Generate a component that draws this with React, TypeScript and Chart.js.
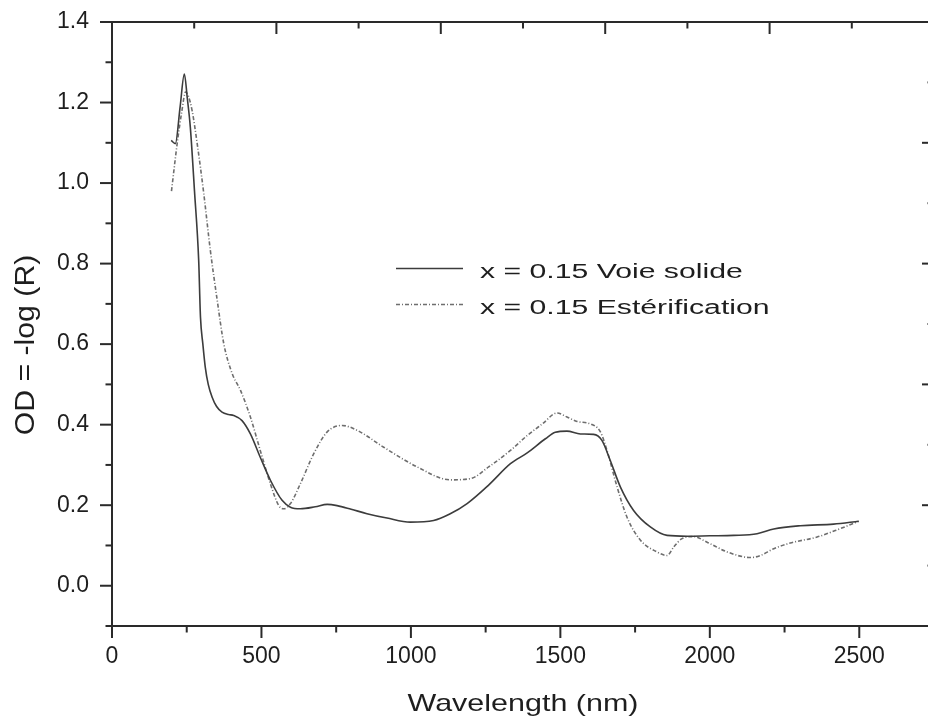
import React, { useEffect, useRef } from "react";
import { Chart, registerables } from "chart.js";

Chart.register(...registerables);

// ---- data ----
const solidWavelength = [198, 212, 228, 242, 252, 262, 276, 290, 296, 304, 312, 322, 335, 350, 368, 390, 407, 435, 463, 496, 530, 569, 597, 630, 680, 720, 753, 800, 853, 920, 998, 1076, 1130, 1188, 1260, 1333, 1389, 1450, 1483, 1522, 1567, 1611, 1639, 1667, 1701, 1745, 1801, 1857, 1924, 2000, 2080, 2158, 2214, 2303, 2414, 2498];
const solidOD = [1.106, 1.098, 1.19, 1.271, 1.21, 1.139, 0.98, 0.808, 0.667, 0.6, 0.543, 0.5, 0.468, 0.445, 0.431, 0.425, 0.423, 0.41, 0.377, 0.319, 0.262, 0.212, 0.195, 0.191, 0.196, 0.202, 0.199, 0.19, 0.179, 0.168, 0.158, 0.162, 0.178, 0.204, 0.25, 0.303, 0.33, 0.365, 0.381, 0.384, 0.377, 0.376, 0.361, 0.311, 0.245, 0.187, 0.146, 0.125, 0.123, 0.124, 0.125, 0.129, 0.141, 0.149, 0.153, 0.16];

const esterWavelength = [199, 218, 234, 246, 256, 268, 285, 307, 329, 352, 374, 402, 430, 463, 496, 530, 558, 575, 597, 630, 675, 720, 770, 820, 909, 1021, 1132, 1199, 1260, 1333, 1389, 1440, 1489, 1522, 1556, 1600, 1634, 1656, 1690, 1723, 1768, 1823, 1857, 1879, 1907, 1946, 1991, 2058, 2136, 2169, 2214, 2269, 2359, 2437, 2498];
const esterOD = [0.98, 1.098, 1.18, 1.226, 1.215, 1.18, 1.098, 0.974, 0.833, 0.709, 0.601, 0.527, 0.485, 0.419, 0.336, 0.253, 0.199, 0.191, 0.204, 0.253, 0.328, 0.382, 0.398, 0.386, 0.344, 0.295, 0.263, 0.266, 0.295, 0.336, 0.373, 0.402, 0.429, 0.419, 0.408, 0.402, 0.382, 0.336, 0.245, 0.17, 0.113, 0.084, 0.075, 0.096, 0.117, 0.122, 0.108, 0.084, 0.07, 0.075, 0.092, 0.106, 0.121, 0.142, 0.16];

const seriesLabels = ["x = 0.15 Voie solide", "x = 0.15 Estérification"];
const xAxisTitle = "Wavelength (nm)";
const yAxisTitle = "OD = -log (R)";

// axis ranges / steps
const xRange = [0, 2750];
const xStep = 250;
const xLabelEvery = 500;
const xLabelMax = 2500;
const yRange = [-0.1, 1.4];
const yStep = 0.1;
const auxRange = [0, 5];
const auxStep = 0.5;

// ---- styling ----
const CANVAS_W = 945;
const CANVAS_H = 720;
const AXIS_COLOR = "#2a2a2a";
const TEXT_COLOR = "#1e1e1e";
const FONT = '"Liberation Sans", Arial, Helvetica, sans-serif';
const SOLID_COLOR = "#3c3c3c";
const DASH_COLOR = "#6e6e6e";
const DASH_PATTERN = [4, 2, 1, 2];
const MAJOR_LEN = 12;
const MINOR_LEN = 6.5;

function zip(xs: number[], ys: number[]) {
  return xs.map((x, i) => ({ x, y: ys[i] }));
}

function stretchedText(
  ctx: CanvasRenderingContext2D,
  text: string,
  x: number,
  y: number,
  size: number,
  sx: number,
  align: CanvasTextAlign,
  rotate = false
) {
  ctx.save();
  ctx.translate(x, y);
  if (rotate) ctx.rotate(-Math.PI / 2);
  ctx.scale(sx, 1);
  ctx.font = `${size}px ${FONT}`;
  ctx.fillStyle = TEXT_COLOR;
  ctx.textAlign = align;
  ctx.textBaseline = "alphabetic";
  ctx.fillText(text, 0, 0);
  ctx.restore();
}

const decorPlugin = {
  id: "decor",
  afterDraw(chart: any) {
    const { ctx, chartArea: ca, scales } = chart;
    ctx.save();
    ctx.strokeStyle = AXIS_COLOR;
    ctx.lineWidth = 2;
    ctx.setLineDash([]);
    const seg = (x1: number, y1: number, x2: number, y2: number) => {
      ctx.beginPath();
      ctx.moveTo(x1, y1);
      ctx.lineTo(x2, y2);
      ctx.stroke();
    };
    // bottom axis ticks (outward)
    scales.x.ticks.forEach((t: any) => {
      const px = scales.x.getPixelForValue(t.value);
      const major = Math.round(t.value) % xLabelEvery === 0;
      seg(px, ca.bottom, px, ca.bottom + (major ? MAJOR_LEN : MINOR_LEN));
    });
    // left axis ticks (outward)
    scales.y.ticks.forEach((t: any) => {
      const py = scales.y.getPixelForValue(t.value);
      const major = Math.round(t.value * 10) % 2 === 0;
      seg(ca.left, py, ca.left - (major ? MAJOR_LEN : MINOR_LEN), py);
    });
    // top axis ticks (inward)
    scales.x2.ticks.forEach((t: any) => {
      const px = scales.x2.getPixelForValue(t.value);
      const major = Math.abs(t.value - Math.round(t.value)) < 1e-6;
      seg(px, ca.top, px, ca.top + (major ? MAJOR_LEN : MINOR_LEN));
    });
    // right axis ticks (inward)
    scales.y2.ticks.forEach((t: any) => {
      const py = scales.y2.getPixelForValue(t.value);
      const major = Math.abs(t.value - Math.round(t.value)) < 1e-6;
      seg(ca.right, py, ca.right - (major ? MAJOR_LEN : MINOR_LEN), py);
    });
    ctx.restore();

    // axis titles
    stretchedText(ctx, xAxisTitle, 523, 711, 24, 1.27, "center");
    stretchedText(ctx, yAxisTitle, 34, 345, 27, 1.12, "center", true);

    // legend
    const ds = chart.data.datasets;
    const rows = [
      { y: 268.5, base: 277.5 },
      { y: 304.5, base: 314 },
    ];
    rows.forEach((r, i) => {
      const d = ds[i];
      ctx.save();
      ctx.strokeStyle = d.borderColor;
      ctx.lineWidth = d.borderWidth;
      ctx.setLineDash(d.borderDash || []);
      ctx.beginPath();
      ctx.moveTo(396, r.y);
      ctx.lineTo(463, r.y);
      ctx.stroke();
      ctx.restore();
      stretchedText(ctx, d.label, 480, r.base, 20, 1.51, "left");
    });
  },
};

export default function App() {
  const ref = useRef<HTMLCanvasElement>(null);

  useEffect(() => {
    if (!ref.current) return;
    const tickFont = { family: FONT, size: 23 };
    const chart = new Chart(ref.current, {
      type: "line",
      data: {
        datasets: [
          {
            label: seriesLabels[0],
            data: zip(solidWavelength, solidOD),
            borderColor: SOLID_COLOR,
            borderWidth: 1.6,
            pointRadius: 0,
            cubicInterpolationMode: "monotone",
            fill: false,
          },
          {
            label: seriesLabels[1],
            data: zip(esterWavelength, esterOD),
            borderColor: DASH_COLOR,
            borderWidth: 1.6,
            borderDash: DASH_PATTERN,
            pointRadius: 0,
            cubicInterpolationMode: "monotone",
            fill: false,
          },
        ],
      },
      options: {
        responsive: false,
        animation: false,
        devicePixelRatio: 1,
        layout: { padding: 0 },
        plugins: {
          legend: { display: false },
          tooltip: { enabled: false },
          title: { display: false },
        },
        scales: {
          x: {
            type: "linear",
            position: "bottom",
            min: xRange[0],
            max: xRange[1],
            // tick marks are drawn by the plugin; tickLength only offsets the labels
            grid: { display: false, drawTicks: true, tickLength: 17 },
            border: { display: true, color: AXIS_COLOR, width: 2 },
            ticks: {
              stepSize: xStep,
              maxTicksLimit: 12,
              autoSkip: false,
              maxRotation: 0,
              minRotation: 0,
              padding: 0,
              color: TEXT_COLOR,
              font: tickFont,
              callback: (v: any) => {
                const n = Math.round(Number(v));
                return n % xLabelEvery === 0 && n <= xLabelMax ? String(n) : "";
              },
            },
            afterFit: (s: any) => {
              s.height = CANVAS_H - 626;
            },
          },
          y: {
            type: "linear",
            position: "left",
            min: yRange[0],
            max: yRange[1],
            grid: { display: false, drawTicks: true, tickLength: 23 },
            border: { display: true, color: AXIS_COLOR, width: 2 },
            ticks: {
              stepSize: yStep,
              maxTicksLimit: 16,
              autoSkip: false,
              padding: 0,
              color: TEXT_COLOR,
              font: tickFont,
              callback: (v: any) => {
                const n = Math.round(Number(v) * 10);
                return n >= 0 && n % 2 === 0 ? (n / 10).toFixed(1) : "";
              },
            },
            afterFit: (s: any) => {
              s.width = 112;
            },
          },
          x2: {
            type: "linear",
            axis: "x",
            position: "top",
            min: auxRange[0],
            max: auxRange[1],
            grid: { display: false, drawTicks: false },
            border: { display: true, color: AXIS_COLOR, width: 2 },
            ticks: { display: false, padding: 0, stepSize: auxStep, maxTicksLimit: 11, autoSkip: false },
            afterFit: (s: any) => {
              s.height = 22;
            },
          },
          y2: {
            type: "linear",
            axis: "y",
            position: "right",
            min: auxRange[0],
            max: auxRange[1],
            grid: { display: false, drawTicks: false },
            border: { display: true, color: AXIS_COLOR, width: 2 },
            ticks: { display: false, padding: 0, stepSize: auxStep, maxTicksLimit: 11, autoSkip: false },
            afterFit: (s: any) => {
              s.width = CANVAS_W - 934;
            },
          },
        },
      } as any,
      plugins: [decorPlugin],
    });
    return () => chart.destroy();
  }, []);

  return (
    <div
      style={{
        position: "absolute",
        left: 0,
        top: 0,
        width: 928,
        height: 720,
        overflow: "hidden",
        background: "#ffffff",
      }}
    >
      <canvas ref={ref} width={CANVAS_W} height={CANVAS_H} style={{ display: "block" }} />
    </div>
  );
}
